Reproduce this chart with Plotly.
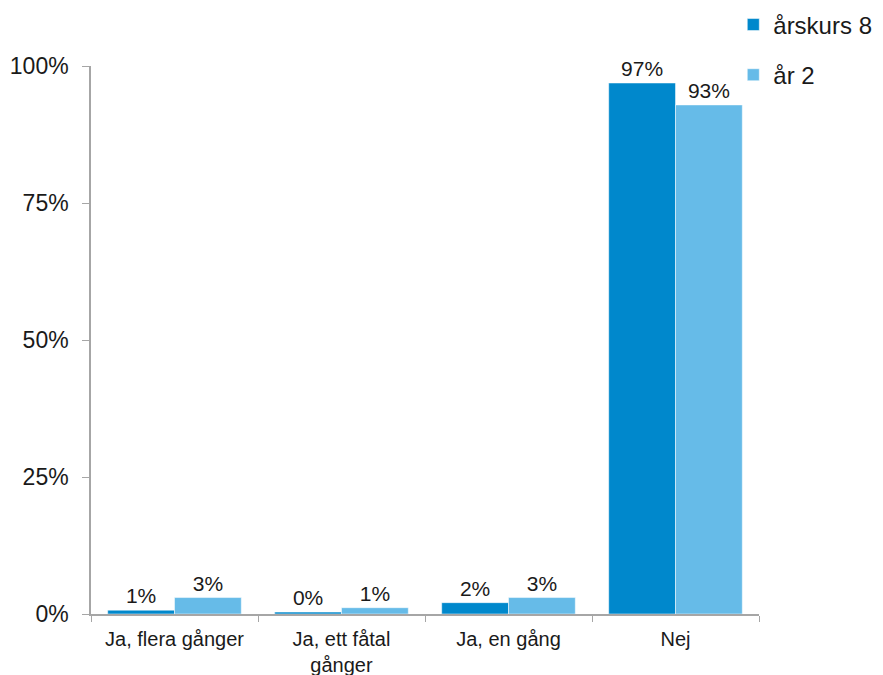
import plotly.graph_objects as go

categories = ["Ja, flera gånger", "Ja, ett fåtal<br>gånger", "Ja, en gång", "Nej"]
series_names = ["årskurs 8", "år 2"]
arskurs8 = [0.007, 0.0035, 0.0207, 0.969]
ar2 = [0.030, 0.0115, 0.030, 0.929]
colors = ["#0088CC", "#66BBE8"]
y_ticks = [0, 0.25, 0.5, 0.75, 1.0]
y_ticklabels = ["0%", "25%", "50%", "75%", "100%"]

FONT = "Liberation Sans, Arial"

fig = go.Figure()
for i, (name, vals) in enumerate(zip(series_names, [arskurs8, ar2])):
    fig.add_trace(go.Bar(
        x=categories, y=vals, name=name,
        marker=dict(color=colors[i], line=dict(color="white", width=0.5)),
        texttemplate="%{y:.0%}", textposition="outside", constraintext="none",
        textfont=dict(size=21, color="#1a1a1a", family=FONT),
        cliponaxis=False, legendgroup=name,
    ))

fig.update_layout(
    width=875, height=667,
    margin=dict(l=83, r=124, t=58, b=61, autoexpand=False),
    paper_bgcolor="white", plot_bgcolor="white",
    barmode="group", bargap=0.2, bargroupgap=0,
    font=dict(family=FONT, color="#1a1a1a"),
    showlegend=True,
    legend=dict(x=0.9615, y=1.116, xanchor="left", yanchor="top",
                font=dict(size=24, color="#1a1a1a", family=FONT), traceorder="grouped",
                tracegroupgap=16, bgcolor="rgba(0,0,0,0)"),
)
fig.update_xaxes(
    showline=True, linecolor="#a6a6a6", linewidth=1.5,
    ticks="outside", tickson="boundaries", ticklen=6, tickcolor="#a6a6a6",
    ticklabelstandoff=6,
    tickfont=dict(size=20, color="#1a1a1a", family=FONT), showgrid=False,
)
fig.update_yaxes(
    range=[0, 1.0], tickvals=y_ticks, ticktext=y_ticklabels,
    showline=True, linecolor="#a6a6a6", linewidth=1.5,
    ticks="outside", ticklen=7, tickcolor="#a6a6a6", ticklabelstandoff=9,
    tickfont=dict(size=23, color="#1a1a1a", family=FONT), showgrid=False, zeroline=False,
)

fig.write_html("out.html")
